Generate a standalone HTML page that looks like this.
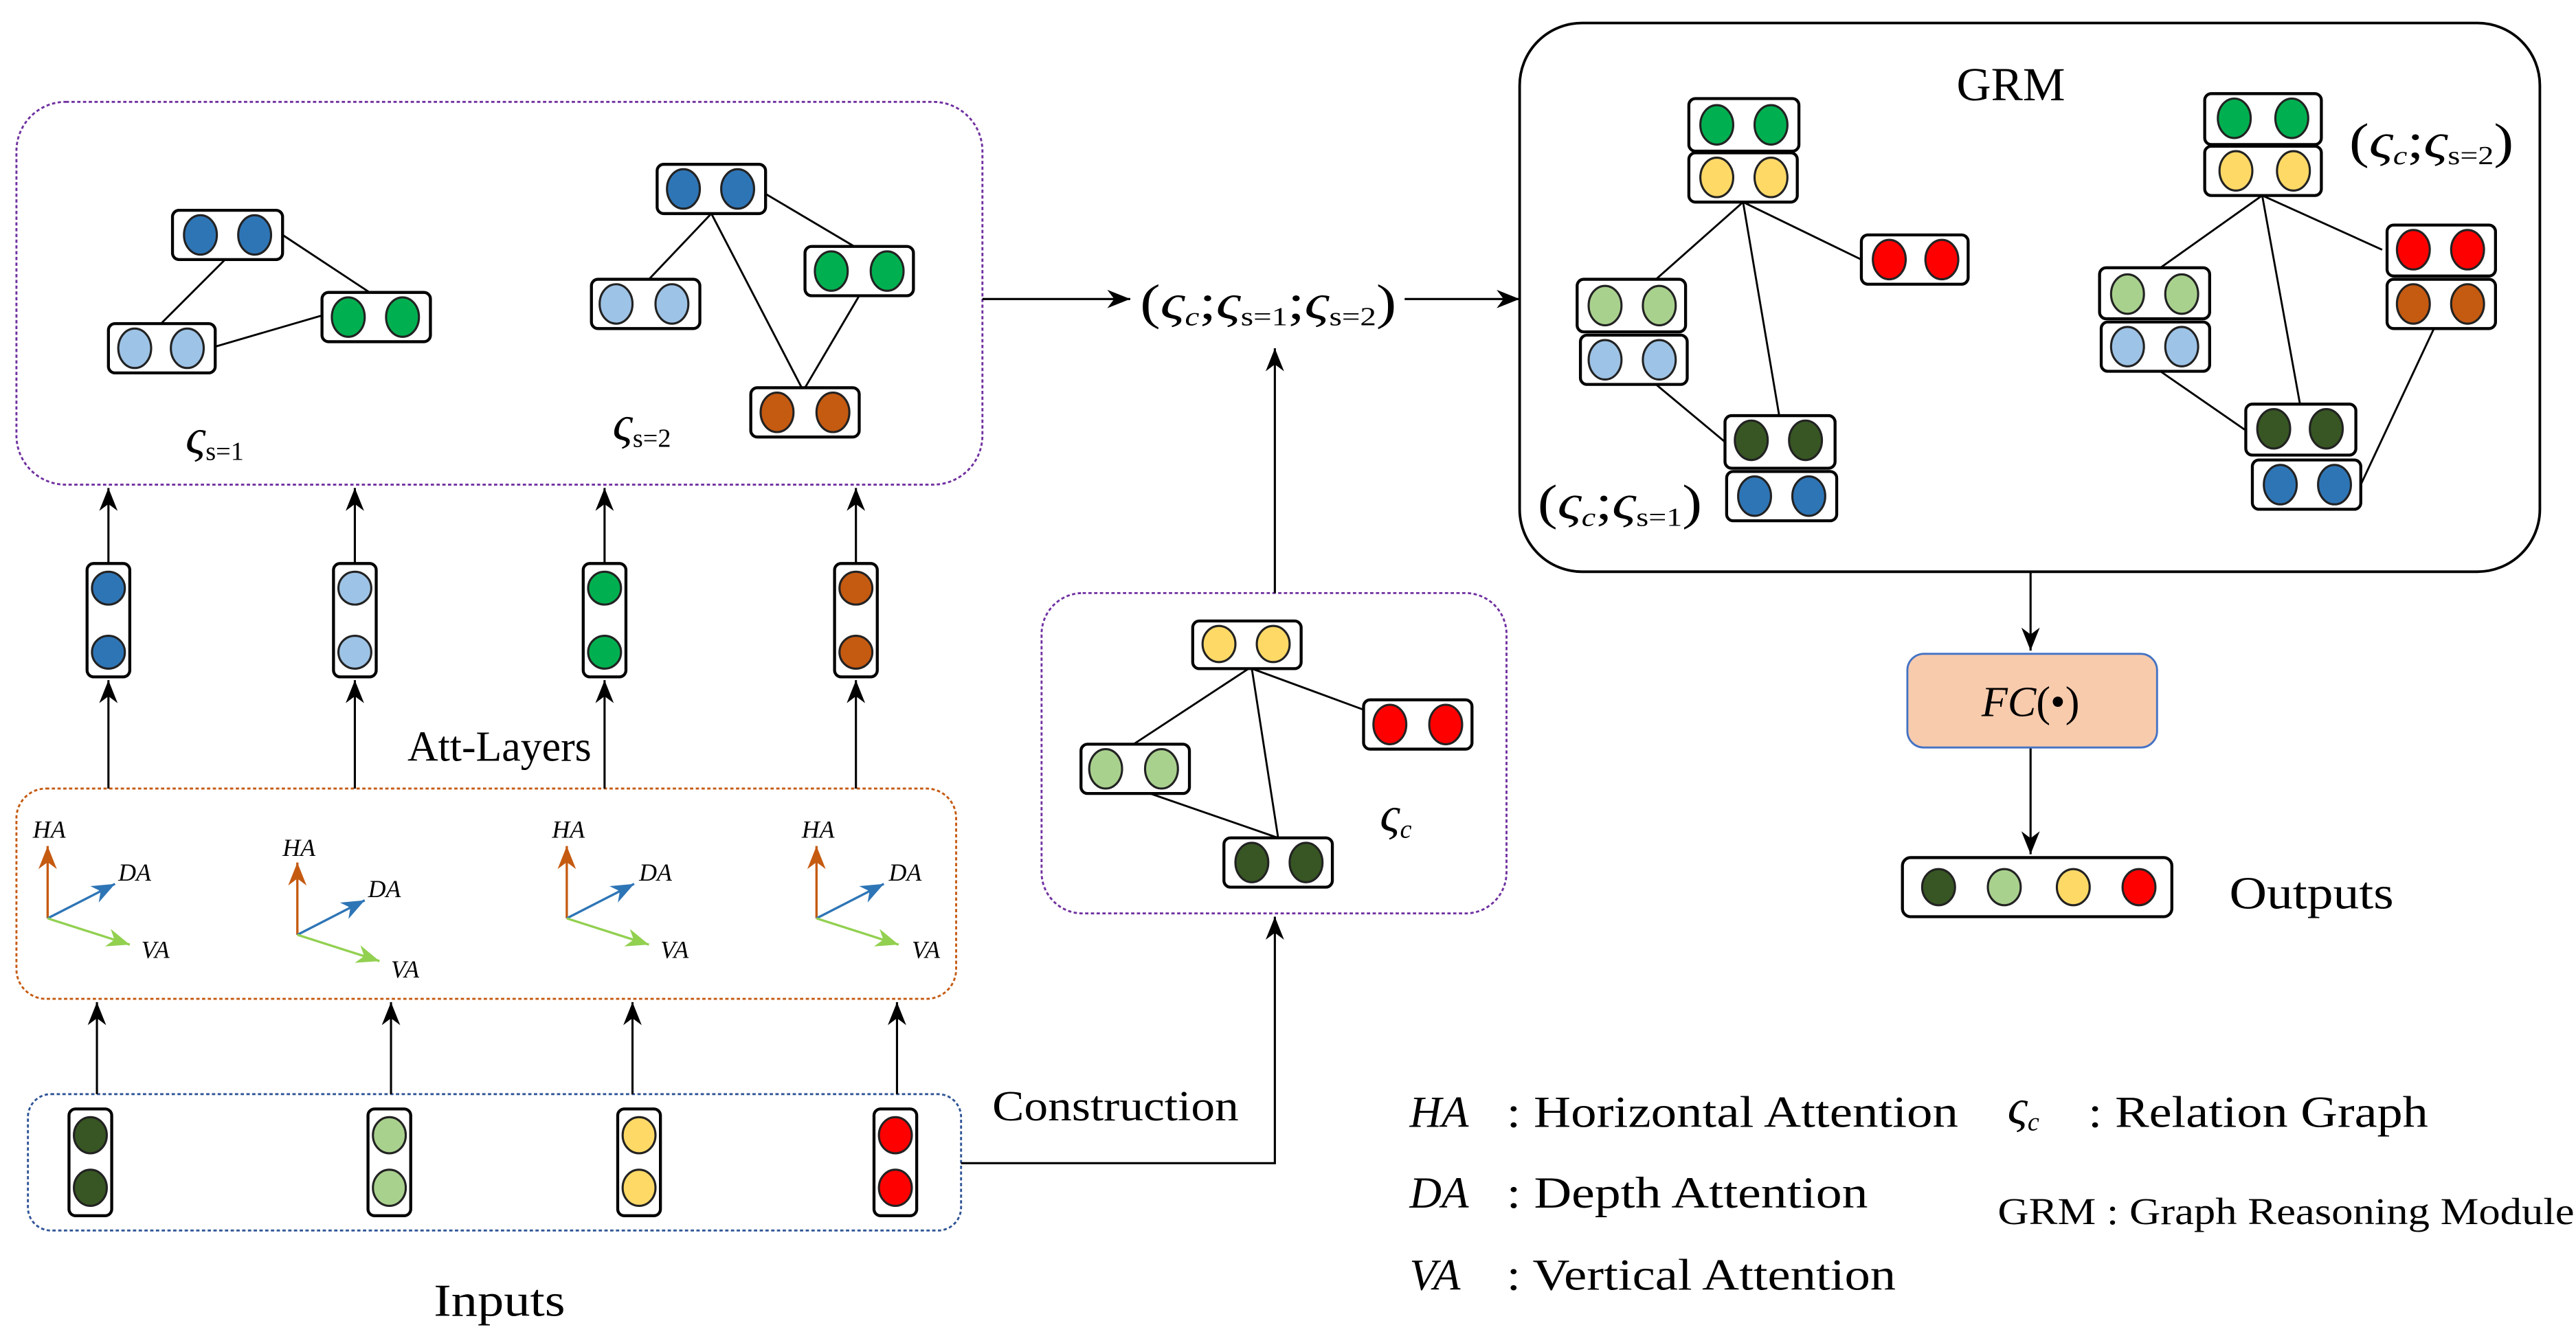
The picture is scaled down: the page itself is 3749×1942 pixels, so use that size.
<!DOCTYPE html>
<html><head><meta charset="utf-8"><style>html,body{margin:0;padding:0;background:#fff}svg{display:block}</style></head>
<body>
<svg width="3749" height="1942" viewBox="0 0 1568 812" preserveAspectRatio="none" xmlns="http://www.w3.org/2000/svg" font-family="'Liberation Serif', serif">
<defs>
<marker id="ar" viewBox="0 0 10 10" refX="10" refY="5" markerWidth="14" markerHeight="14" markerUnits="userSpaceOnUse" orient="auto"><path d="M0,1 L10,5 L0,9 L3,5 Z" fill="#000"/></marker>
<marker id="ao" viewBox="0 0 10 10" refX="10" refY="5" markerWidth="14" markerHeight="14" markerUnits="userSpaceOnUse" orient="auto"><path d="M0,1 L10,5 L0,9 L3,5 Z" fill="#c55a11"/></marker>
<marker id="ab" viewBox="0 0 10 10" refX="10" refY="5" markerWidth="14" markerHeight="14" markerUnits="userSpaceOnUse" orient="auto"><path d="M0,1 L10,5 L0,9 L3,5 Z" fill="#2e75b6"/></marker>
<marker id="ag" viewBox="0 0 10 10" refX="10" refY="5" markerWidth="14" markerHeight="14" markerUnits="userSpaceOnUse" orient="auto"><path d="M0,1 L10,5 L0,9 L3,5 Z" fill="#92d050"/></marker>
</defs>
<rect width="1568" height="812" fill="#fff"/>

<rect x="10" y="62" width="588" height="233" rx="30" fill="none" stroke="#7030a0" stroke-width="1.2" stroke-dasharray="2,1.5"/>
<rect x="10" y="480" width="572" height="128" rx="18" fill="none" stroke="#c55a11" stroke-width="1.2" stroke-dasharray="2,1.5"/>
<rect x="17" y="666" width="568" height="83" rx="14" fill="none" stroke="#2f5597" stroke-width="1.2" stroke-dasharray="2,1.5"/>
<rect x="634" y="361" width="283" height="195" rx="25" fill="none" stroke="#7030a0" stroke-width="1.2" stroke-dasharray="2,1.5"/>
<rect x="925" y="14" width="621" height="334" rx="38" fill="none" stroke="#000" stroke-width="1.6"/>

<g stroke="#000" stroke-width="1.2" fill="none">
<line x1="137" y1="158" x2="98" y2="197"/><line x1="172" y1="143" x2="225" y2="178"/><line x1="131" y1="211" x2="196" y2="192"/>
<line x1="433" y1="130" x2="395" y2="170"/><line x1="433" y1="130" x2="488" y2="236"/><line x1="466" y1="118" x2="520" y2="150"/><line x1="523" y1="180" x2="490" y2="236"/>
<line x1="760" y1="407" x2="690" y2="453"/><line x1="762" y1="407" x2="778" y2="510"/><line x1="762" y1="407" x2="830" y2="432"/><line x1="700" y1="483" x2="778" y2="510"/>
<line x1="1061" y1="123" x2="1008" y2="170"/><line x1="1061" y1="123" x2="1083" y2="253"/><line x1="1061" y1="123" x2="1133" y2="158"/><line x1="1008" y1="234" x2="1050" y2="269"/>
<line x1="1377" y1="119" x2="1315" y2="163"/><line x1="1377" y1="119" x2="1400" y2="246"/><line x1="1377" y1="119" x2="1450" y2="152"/><line x1="1315" y1="226" x2="1367" y2="262"/><line x1="1482" y1="199" x2="1437" y2="295"/>
</g>

<g stroke="#000" stroke-width="1.3" fill="none">
<line x1="598" y1="182" x2="688" y2="182" marker-end="url(#ar)"/>
<line x1="855" y1="182" x2="925" y2="182" marker-end="url(#ar)"/>
<line x1="776" y1="361" x2="776" y2="212" marker-end="url(#ar)"/>
<polyline points="585,708 776,708 776,558" marker-end="url(#ar)"/>
<line x1="66" y1="343" x2="66" y2="297" marker-end="url(#ar)"/>
<line x1="216" y1="343" x2="216" y2="297" marker-end="url(#ar)"/>
<line x1="368" y1="343" x2="368" y2="297" marker-end="url(#ar)"/>
<line x1="521" y1="343" x2="521" y2="297" marker-end="url(#ar)"/>
<line x1="66" y1="480" x2="66" y2="414" marker-end="url(#ar)"/>
<line x1="216" y1="480" x2="216" y2="414" marker-end="url(#ar)"/>
<line x1="368" y1="480" x2="368" y2="414" marker-end="url(#ar)"/>
<line x1="521" y1="480" x2="521" y2="414" marker-end="url(#ar)"/>
<line x1="59" y1="666" x2="59" y2="610" marker-end="url(#ar)"/>
<line x1="238" y1="666" x2="238" y2="610" marker-end="url(#ar)"/>
<line x1="385" y1="666" x2="385" y2="610" marker-end="url(#ar)"/>
<line x1="546" y1="666" x2="546" y2="610" marker-end="url(#ar)"/>
<line x1="1236" y1="348" x2="1236" y2="396" marker-end="url(#ar)"/>
<line x1="1236" y1="455" x2="1236" y2="520" marker-end="url(#ar)"/>
</g>

<g stroke="#000" stroke-width="1.8" fill="#fff">
<rect x="105" y="128" width="67" height="30" rx="4"/>
<rect x="66" y="197" width="65" height="30" rx="4"/>
<rect x="196" y="178" width="66" height="30" rx="4"/>
<rect x="400" y="100" width="66" height="30" rx="4"/>
<rect x="360" y="170" width="66" height="30" rx="4"/>
<rect x="490" y="150" width="66" height="30" rx="4"/>
<rect x="457" y="236" width="66" height="30" rx="4"/>
<rect x="726" y="378" width="66" height="29" rx="4"/>
<rect x="830" y="426" width="66" height="30" rx="4"/>
<rect x="658" y="453" width="66" height="30" rx="4"/>
<rect x="745" y="510" width="66" height="30" rx="4"/>
<rect x="1028" y="60" width="67" height="32" rx="4"/>
<rect x="1028" y="93" width="66" height="30" rx="4"/>
<rect x="1133" y="143" width="65" height="30" rx="4"/>
<rect x="960" y="170" width="66" height="32" rx="4"/>
<rect x="962" y="204" width="65" height="30" rx="4"/>
<rect x="1050" y="253" width="67" height="32" rx="4"/>
<rect x="1051" y="287" width="67" height="30" rx="4"/>
<rect x="1342" y="57" width="71" height="31" rx="4"/>
<rect x="1342" y="89" width="71" height="30" rx="4"/>
<rect x="1453" y="137" width="66" height="31" rx="4"/>
<rect x="1453" y="170" width="66" height="30" rx="4"/>
<rect x="1278" y="163" width="67" height="31" rx="4"/>
<rect x="1279" y="196" width="66" height="30" rx="4"/>
<rect x="1367" y="246" width="67" height="31" rx="4"/>
<rect x="1371" y="280" width="66" height="30" rx="4"/>
<rect x="53" y="343" width="26" height="69" rx="4"/>
<rect x="203" y="343" width="26" height="69" rx="4"/>
<rect x="355" y="343" width="26" height="69" rx="4"/>
<rect x="508" y="343" width="26" height="69" rx="4"/>
<rect x="42" y="675" width="26" height="65" rx="4"/>
<rect x="224" y="675" width="26" height="65" rx="4"/>
<rect x="376" y="675" width="26" height="65" rx="4"/>
<rect x="532" y="675" width="26" height="65" rx="4"/>
<rect x="1158" y="522" width="164" height="36" rx="5"/>
</g>
<rect x="1161" y="398" width="152" height="57" rx="10" fill="#f8cbad" stroke="#4472c4" stroke-width="1.2"/>

<g stroke="#222" stroke-width="1.3">
<g fill="#2e75b6">
<ellipse cx="122" cy="143" rx="10" ry="12"/><ellipse cx="155" cy="143" rx="10" ry="12"/>
<ellipse cx="416" cy="115" rx="10" ry="12"/><ellipse cx="449" cy="115" rx="10" ry="12"/>
<ellipse cx="66" cy="358" rx="10" ry="10"/><ellipse cx="66" cy="397" rx="10" ry="10"/>
<ellipse cx="1068" cy="302" rx="10" ry="12"/><ellipse cx="1101" cy="302" rx="10" ry="12"/>
<ellipse cx="1388" cy="295" rx="10" ry="12"/><ellipse cx="1421" cy="295" rx="10" ry="12"/>
</g>
<g fill="#9dc3e6">
<ellipse cx="82" cy="212" rx="10" ry="12"/><ellipse cx="114" cy="212" rx="10" ry="12"/>
<ellipse cx="375" cy="185" rx="10" ry="12"/><ellipse cx="409" cy="185" rx="10" ry="12"/>
<ellipse cx="216" cy="358" rx="10" ry="10"/><ellipse cx="216" cy="397" rx="10" ry="10"/>
<ellipse cx="977" cy="219" rx="10" ry="12"/><ellipse cx="1010" cy="219" rx="10" ry="12"/>
<ellipse cx="1295" cy="211" rx="10" ry="12"/><ellipse cx="1328" cy="211" rx="10" ry="12"/>
</g>
<g fill="#00b050">
<ellipse cx="212" cy="193" rx="10" ry="12"/><ellipse cx="245" cy="193" rx="10" ry="12"/>
<ellipse cx="506" cy="165" rx="10" ry="12"/><ellipse cx="540" cy="165" rx="10" ry="12"/>
<ellipse cx="368" cy="358" rx="10" ry="10"/><ellipse cx="368" cy="397" rx="10" ry="10"/>
<ellipse cx="1045" cy="76" rx="10" ry="12"/><ellipse cx="1078" cy="76" rx="10" ry="12"/>
<ellipse cx="1360" cy="72" rx="10" ry="12"/><ellipse cx="1395" cy="72" rx="10" ry="12"/>
</g>
<g fill="#c55a11">
<ellipse cx="473" cy="251" rx="10" ry="12"/><ellipse cx="507" cy="251" rx="10" ry="12"/>
<ellipse cx="521" cy="358" rx="10" ry="10"/><ellipse cx="521" cy="397" rx="10" ry="10"/>
<ellipse cx="1469" cy="185" rx="10" ry="12"/><ellipse cx="1502" cy="185" rx="10" ry="12"/>
</g>
<g fill="#ffd966">
<ellipse cx="742" cy="392" rx="10" ry="11"/><ellipse cx="775" cy="392" rx="10" ry="11"/>
<ellipse cx="1045" cy="108" rx="10" ry="12"/><ellipse cx="1078" cy="108" rx="10" ry="12"/>
<ellipse cx="1361" cy="104" rx="10" ry="12"/><ellipse cx="1396" cy="104" rx="10" ry="12"/>
<ellipse cx="389" cy="691" rx="10" ry="11"/><ellipse cx="389" cy="723" rx="10" ry="11"/>
<ellipse cx="1262" cy="540" rx="10" ry="11"/>
</g>
<g fill="#ff0000">
<ellipse cx="846" cy="441" rx="10" ry="12"/><ellipse cx="880" cy="441" rx="10" ry="12"/>
<ellipse cx="1150" cy="158" rx="10" ry="12"/><ellipse cx="1182" cy="158" rx="10" ry="12"/>
<ellipse cx="1469" cy="152" rx="10" ry="12"/><ellipse cx="1502" cy="152" rx="10" ry="12"/>
<ellipse cx="545" cy="691" rx="10" ry="11"/><ellipse cx="545" cy="723" rx="10" ry="11"/>
<ellipse cx="1302" cy="540" rx="10" ry="11"/>
</g>
<g fill="#a9d18e">
<ellipse cx="673" cy="468" rx="10" ry="12"/><ellipse cx="707" cy="468" rx="10" ry="12"/>
<ellipse cx="977" cy="186" rx="10" ry="12"/><ellipse cx="1010" cy="186" rx="10" ry="12"/>
<ellipse cx="1295" cy="179" rx="10" ry="12"/><ellipse cx="1328" cy="179" rx="10" ry="12"/>
<ellipse cx="237" cy="691" rx="10" ry="11"/><ellipse cx="237" cy="723" rx="10" ry="11"/>
<ellipse cx="1220" cy="540" rx="10" ry="11"/>
</g>
<g fill="#375623">
<ellipse cx="762" cy="525" rx="10" ry="12"/><ellipse cx="795" cy="525" rx="10" ry="12"/>
<ellipse cx="1066" cy="268" rx="10" ry="12"/><ellipse cx="1099" cy="268" rx="10" ry="12"/>
<ellipse cx="1384" cy="261" rx="10" ry="12"/><ellipse cx="1416" cy="261" rx="10" ry="12"/>
<ellipse cx="55" cy="691" rx="10" ry="11"/><ellipse cx="55" cy="723" rx="10" ry="11"/>
<ellipse cx="1180" cy="540" rx="10" ry="11"/>
</g>
</g>

<g stroke-width="1.4" fill="none">
<g transform="translate(29,559)"><line x1="0" y1="0" x2="0" y2="-44" stroke="#c55a11" marker-end="url(#ao)"/><line x1="0" y1="0" x2="41" y2="-21" stroke="#2e75b6" marker-end="url(#ab)"/><line x1="0" y1="0" x2="50" y2="16" stroke="#92d050" marker-end="url(#ag)"/></g>
<g transform="translate(181,569)"><line x1="0" y1="0" x2="0" y2="-44" stroke="#c55a11" marker-end="url(#ao)"/><line x1="0" y1="0" x2="41" y2="-21" stroke="#2e75b6" marker-end="url(#ab)"/><line x1="0" y1="0" x2="50" y2="16" stroke="#92d050" marker-end="url(#ag)"/></g>
<g transform="translate(345,559)"><line x1="0" y1="0" x2="0" y2="-44" stroke="#c55a11" marker-end="url(#ao)"/><line x1="0" y1="0" x2="41" y2="-21" stroke="#2e75b6" marker-end="url(#ab)"/><line x1="0" y1="0" x2="50" y2="16" stroke="#92d050" marker-end="url(#ag)"/></g>
<g transform="translate(497,559)"><line x1="0" y1="0" x2="0" y2="-44" stroke="#c55a11" marker-end="url(#ao)"/><line x1="0" y1="0" x2="41" y2="-21" stroke="#2e75b6" marker-end="url(#ab)"/><line x1="0" y1="0" x2="50" y2="16" stroke="#92d050" marker-end="url(#ag)"/></g>
</g>
<g font-style="italic" font-size="15" fill="#000">
<text x="20" y="510">HA</text><text x="72" y="536">DA</text><text x="86" y="583">VA</text>
<text x="172" y="521">HA</text><text x="224" y="546">DA</text><text x="238" y="595">VA</text>
<text x="336" y="510">HA</text><text x="389" y="536">DA</text><text x="402" y="583">VA</text>
<text x="488" y="510">HA</text><text x="541" y="536">DA</text><text x="555" y="583">VA</text>
</g>

<g fill="#000">
<text x="113" y="276" font-size="30" font-style="italic">ς<tspan font-size="16" dy="4" font-style="normal">s=1</tspan></text>
<text x="373" y="268" font-size="30" font-style="italic">ς<tspan font-size="16" dy="4" font-style="normal">s=2</tspan></text>
<text x="694" y="194" font-size="30" textLength="156" lengthAdjust="spacingAndGlyphs">(<tspan font-style="italic">ς</tspan><tspan font-size="16" dy="4" font-style="italic">c</tspan><tspan dy="-4">;</tspan><tspan font-style="italic">ς</tspan><tspan font-size="16" dy="4">s=1</tspan><tspan dy="-4">;</tspan><tspan font-style="italic">ς</tspan><tspan font-size="16" dy="4">s=2</tspan><tspan dy="-4">)</tspan></text>
<text x="936" y="316" font-size="30" textLength="100" lengthAdjust="spacingAndGlyphs">(<tspan font-style="italic">ς</tspan><tspan font-size="16" dy="4" font-style="italic">c</tspan><tspan dy="-4">;</tspan><tspan font-style="italic">ς</tspan><tspan font-size="16" dy="4">s=1</tspan><tspan dy="-4">)</tspan></text>
<text x="1430" y="96" font-size="30" textLength="100" lengthAdjust="spacingAndGlyphs">(<tspan font-style="italic">ς</tspan><tspan font-size="16" dy="4" font-style="italic">c</tspan><tspan dy="-4">;</tspan><tspan font-style="italic">ς</tspan><tspan font-size="16" dy="4">s=2</tspan><tspan dy="-4">)</tspan></text>
<text x="840" y="506" font-size="30" font-style="italic">ς<tspan font-size="16" dy="4">c</tspan></text>
<text x="1224" y="61" font-size="29" text-anchor="middle">GRM</text>
<text x="248" y="463" font-size="26" textLength="112" lengthAdjust="spacingAndGlyphs">Att-Layers</text>
<text x="604" y="682" font-size="26" textLength="150" lengthAdjust="spacingAndGlyphs">Construction</text>
<text x="264" y="801" font-size="28" textLength="80" lengthAdjust="spacingAndGlyphs">Inputs</text>
<text x="1357" y="553" font-size="28" textLength="100" lengthAdjust="spacingAndGlyphs">Outputs</text>
<text x="1236" y="436" font-size="26" text-anchor="middle"><tspan font-style="italic">FC</tspan>(•)</text>
<text x="858" y="686" font-size="27" font-style="italic">HA</text>
<text x="917" y="686" font-size="27" textLength="275" lengthAdjust="spacingAndGlyphs">: Horizontal Attention</text>
<text x="858" y="735" font-size="27" font-style="italic">DA</text>
<text x="917" y="735" font-size="27" textLength="220" lengthAdjust="spacingAndGlyphs">: Depth Attention</text>
<text x="858" y="785" font-size="27" font-style="italic">VA</text>
<text x="917" y="785" font-size="27" textLength="237" lengthAdjust="spacingAndGlyphs">: Vertical Attention</text>
<text x="1222" y="684" font-size="30" font-style="italic">ς<tspan font-size="16" dy="4">c</tspan></text>
<text x="1271" y="686" font-size="27" textLength="207" lengthAdjust="spacingAndGlyphs">: Relation Graph</text>
<text x="1216" y="745" font-size="23" textLength="351" lengthAdjust="spacingAndGlyphs">GRM : Graph Reasoning Module</text>
</g>
</svg>
</body></html>
